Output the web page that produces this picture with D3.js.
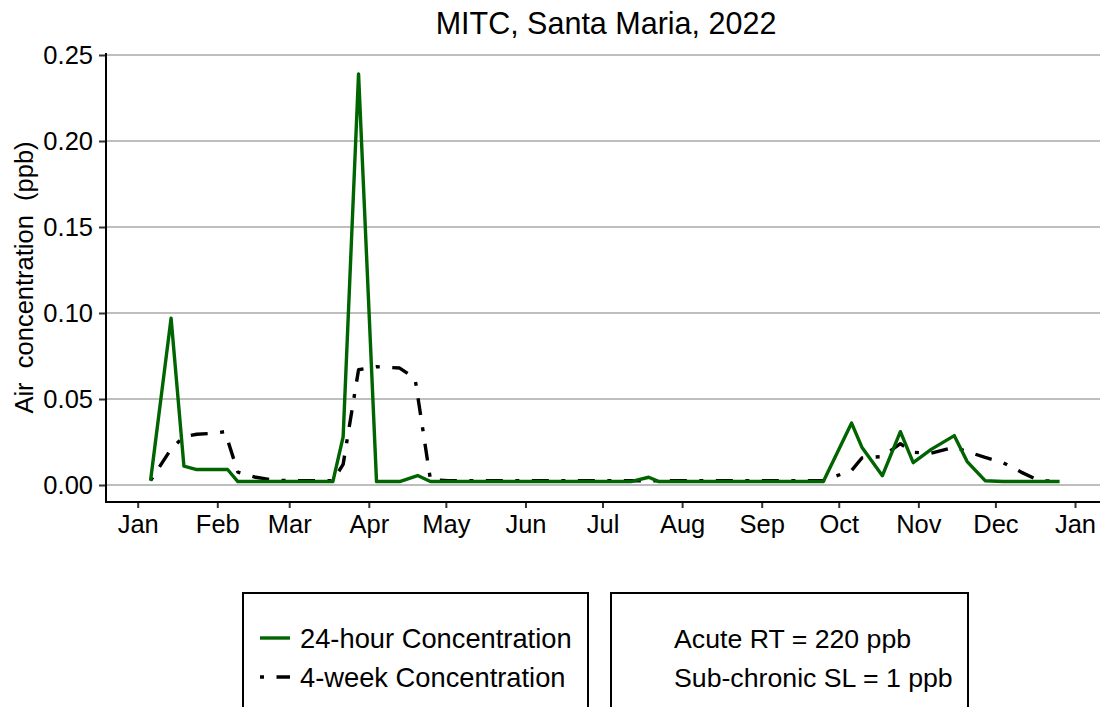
<!DOCTYPE html>
<html>
<head>
<meta charset="utf-8">
<script src="https://cdn.jsdelivr.net/npm/d3@7"></script>
<style>
  html, body { margin: 0; padding: 0; background: #fff; }
  svg { display: block; }
  text { font-family: "Liberation Sans", Arial, sans-serif; fill: #000; }
</style>
</head>
<body>
<svg id="chart" width="1102" height="707"></svg>
<script>
// ---------- data ----------
const title = "MITC, Santa Maria, 2022";
const yTitle = "Air  concentration  (ppb)";
const yTicks = [0, 0.05, 0.10, 0.15, 0.20, 0.25];
const monthTicks = ["2022-01-01","2022-02-01","2022-03-01","2022-04-01","2022-05-01","2022-06-01",
  "2022-07-01","2022-08-01","2022-09-01","2022-10-01","2022-11-01","2022-12-01","2023-01-01"];

const dates24h = ["2022-01-06","2022-01-14","2022-01-19","2022-01-24","2022-01-30","2022-02-05","2022-02-09",
  "2022-02-16","2022-02-23","2022-03-02","2022-03-09","2022-03-18","2022-03-22","2022-03-28","2022-04-04",
  "2022-04-13","2022-04-20","2022-04-25","2022-05-02","2022-05-09","2022-05-16","2022-05-23","2022-05-30",
  "2022-06-06","2022-06-13","2022-06-20","2022-06-27","2022-07-05","2022-07-12","2022-07-19","2022-07-23",
  "2022-07-30","2022-08-06","2022-08-13","2022-08-20","2022-08-27","2022-09-03","2022-09-10","2022-09-17",
  "2022-09-25","2022-10-06","2022-10-10","2022-10-18","2022-10-25","2022-10-30","2022-11-06","2022-11-15",
  "2022-11-20","2022-11-27","2022-12-04","2022-12-11","2022-12-18","2022-12-26"];
const values24h = [0.0025,0.097,0.011,0.009,0.009,0.009,0.002,
  0.002,0.002,0.002,0.002,0.002,0.028,0.239,0.002,
  0.002,0.0055,0.002,0.002,0.002,0.002,0.002,0.002,
  0.002,0.002,0.002,0.002,0.002,0.002,0.0045,0.002,
  0.002,0.002,0.002,0.002,0.002,0.002,0.002,0.002,
  0.002,0.036,0.022,0.0054,0.031,0.013,0.0207,0.0287,
  0.0136,0.0025,0.002,0.002,0.002,0.002];

const dates4wk = ["2022-01-06","2022-01-14","2022-01-19","2022-01-24","2022-01-30","2022-02-04","2022-02-09",
  "2022-02-16","2022-02-23","2022-03-02","2022-03-09","2022-03-18","2022-03-22","2022-03-28","2022-04-04",
  "2022-04-13","2022-04-19","2022-04-25","2022-05-02","2022-05-09","2022-05-16","2022-05-23","2022-05-30",
  "2022-06-06","2022-06-13","2022-06-20","2022-06-27","2022-07-05","2022-07-12","2022-07-19","2022-07-23",
  "2022-07-30","2022-08-06","2022-08-13","2022-08-20","2022-08-27","2022-09-03","2022-09-10","2022-09-17",
  "2022-09-25","2022-10-06","2022-10-10","2022-10-18","2022-10-25","2022-10-30","2022-11-06","2022-11-15",
  "2022-11-20","2022-11-27","2022-12-04","2022-12-11","2022-12-18","2022-12-24"];
const values4wk = [0.0025,0.021,0.028,0.0295,0.030,0.031,0.0075,
  0.0045,0.0028,0.0025,0.0025,0.0025,0.012,0.067,0.0688,
  0.068,0.062,0.003,0.0025,0.0025,0.0025,0.0025,0.0025,
  0.0025,0.0025,0.0025,0.0025,0.0025,0.0025,0.0025,0.0025,
  0.0025,0.0025,0.0025,0.0025,0.0025,0.0025,0.0025,0.0025,
  0.0025,0.0085,0.0157,0.0165,0.024,0.019,0.0185,0.022,
  0.0195,0.016,0.013,0.0075,0.0025,0.0022];

const legendSeries = ["24-hour Concentration", "4-week Concentration"];
const legendNotes = ["Acute RT = 220 ppb", "Sub-chronic SL = 1 ppb"];

// ---------- drawing ----------
const svg = d3.select("#chart");
const parse = d3.timeParse("%Y-%m-%d");
const panel = { left: 106, right: 1100, top: 53, bottom: 502 };

const x = d3.scaleTime()
  .domain([parse("2022-01-01"), parse("2023-01-01")])
  .range([137.7, 1075]);
const y = d3.scaleLinear()
  .domain([0, 0.25])
  .range([485, 55]);

// gridlines
svg.append("g").selectAll("line").data(yTicks).join("line")
  .attr("x1", panel.left).attr("x2", panel.right)
  .attr("y1", d => y(d)).attr("y2", d => y(d))
  .attr("stroke", "#bebebe").attr("stroke-width", 2);

// y axis
const yAxis = d3.axisLeft(y).tickValues(yTicks).tickFormat(d3.format(".2f")).tickSize(7).tickPadding(6);
const gy = svg.append("g").attr("transform", `translate(${panel.left},0)`).call(yAxis);
gy.select(".domain").remove();
gy.selectAll(".tick line").attr("stroke", "#333").attr("stroke-width", 2);
gy.selectAll(".tick text").attr("font-size", 25.5).attr("font-family", "Liberation Sans, Arial, sans-serif").attr("fill", "#000");

// x axis
const xAxis = d3.axisBottom(x).tickValues(monthTicks.map(parse)).tickFormat(d3.timeFormat("%b")).tickSize(6).tickPadding(7);
const gx = svg.append("g").attr("transform", `translate(0,${panel.bottom})`).call(xAxis);
gx.select(".domain").remove();
gx.selectAll(".tick line").attr("stroke", "#333").attr("stroke-width", 2);
gx.selectAll(".tick text").attr("font-size", 25.5).attr("font-family", "Liberation Sans, Arial, sans-serif").attr("fill", "#000");

// axis lines
svg.append("line").attr("x1", panel.left).attr("x2", panel.left).attr("y1", panel.top).attr("y2", panel.bottom + 1)
  .attr("stroke", "#000").attr("stroke-width", 2);
svg.append("line").attr("x1", panel.left - 1).attr("x2", panel.right).attr("y1", panel.bottom).attr("y2", panel.bottom)
  .attr("stroke", "#000").attr("stroke-width", 2);

// lines
const line = d3.line().x(d => x(d[0])).y(d => y(d[1]));
const s24 = dates24h.map((d, i) => [parse(d), values24h[i]]);
const s4w = dates4wk.map((d, i) => [parse(d), values4wk[i]]);
const dashDot = "4,12.5,17,12.5";

svg.append("path").datum(s4w).attr("d", line)
  .attr("fill", "none").attr("stroke", "#000").attr("stroke-width", 3.4)
  .attr("stroke-dasharray", dashDot).attr("stroke-linejoin", "round");
svg.append("path").datum(s24).attr("d", line)
  .attr("fill", "none").attr("stroke", "#006400").attr("stroke-width", 3.4)
  .attr("stroke-linejoin", "round");

// title
svg.append("text").attr("x", 606).attr("y", 33.5).attr("text-anchor", "middle")
  .attr("font-size", 30.5).text(title);

// y title
svg.append("text").attr("transform", `translate(33,${(panel.top + panel.bottom) / 2}) rotate(-90)`)
  .attr("text-anchor", "middle").attr("font-size", 25.5).style("white-space", "pre")
  .attr("xml:space", "preserve").text(yTitle);

// legend boxes
const lg = svg.append("g");
lg.append("rect").attr("x", 243).attr("y", 593).attr("width", 345).attr("height", 200)
  .attr("fill", "none").attr("stroke", "#000").attr("stroke-width", 2);
lg.append("rect").attr("x", 611).attr("y", 593).attr("width", 357).attr("height", 200)
  .attr("fill", "none").attr("stroke", "#000").attr("stroke-width", 2);

const rowY = [638, 677];
lg.append("line").attr("x1", 260).attr("x2", 290).attr("y1", rowY[0]).attr("y2", rowY[0])
  .attr("stroke", "#006400").attr("stroke-width", 3.4);
lg.append("line").attr("x1", 260).attr("x2", 290).attr("y1", rowY[1]).attr("y2", rowY[1])
  .attr("stroke", "#000").attr("stroke-width", 3.4).attr("stroke-dasharray", dashDot);
lg.selectAll("text.s").data(legendSeries).join("text").attr("class", "s")
  .attr("x", 300).attr("y", (d, i) => rowY[i] + 9.5).attr("font-size", 27.3).text(d => d);
lg.selectAll("text.n").data(legendNotes).join("text").attr("class", "n")
  .attr("x", 674).attr("y", (d, i) => rowY[i] + 9.5).attr("font-size", 26.7).text(d => d);
</script>
</body>
</html>
